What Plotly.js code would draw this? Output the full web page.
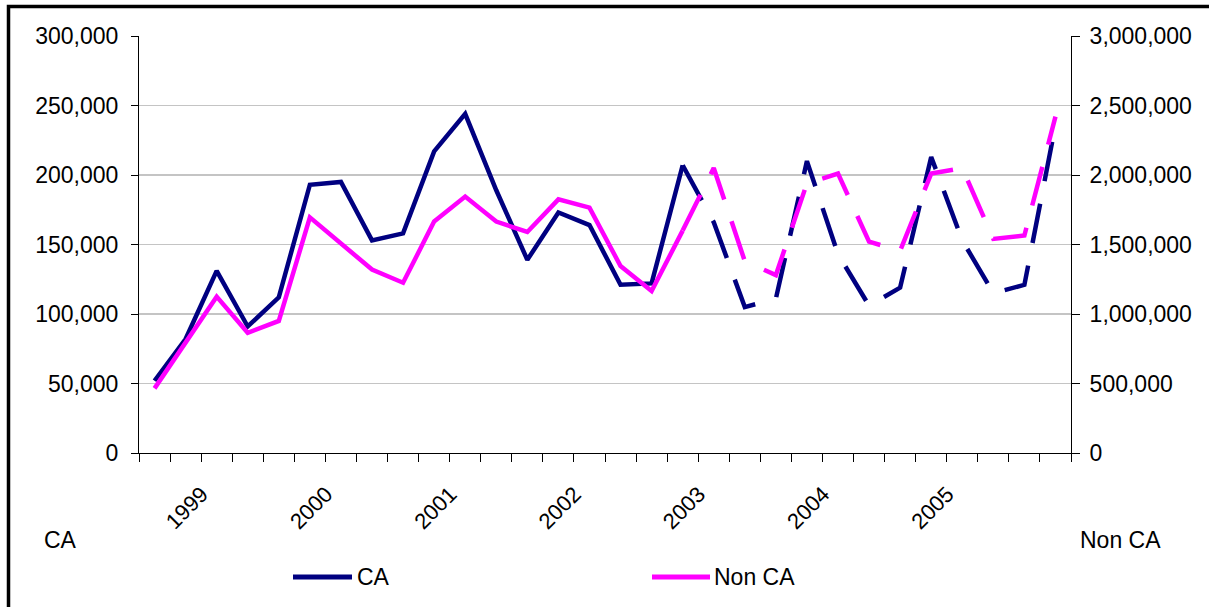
<!DOCTYPE html>
<html>
<head>
<meta charset="utf-8">
<script src="https://cdn.plot.ly/plotly-3.0.1.min.js"></script>
<style>
html, body { margin: 0; padding: 0; background: #ffffff; }
#chart { width: 1209px; height: 607px; }
</style>
</head>
<body>
<div id="chart"></div>
<script>
// ---- data ----
const yearLabels = ['1999', '2000', '2001', '2002', '2003', '2004', '2005'];
const yearLabelIndex = [1, 5, 9, 13, 17, 21, 25];
const seriesNames = ['CA', 'Non CA'];

// CA series (left axis)
const ca = [
  52000, 82000, 131000, 91000, 112000, 193000, 195000, 153000, 158000, 217000,
  244000, 189000, 139000, 173000, 164000, 121000, 122000, 207000, 166000, 105000,
  111000, 210000, 143000, 106000, 119000, 213000, 153000, 115000, 121000, 236000
];

// Non CA series (right axis)
const nonCa = [
  465000, 790000, 1125000, 865000, 950000, 1695000, 1510000, 1320000, 1225000, 1665000,
  1845000, 1665000, 1590000, 1825000, 1765000, 1345000, 1165000, 1600000, 2050000, 1380000,
  1280000, 1940000, 2010000, 1520000, 1455000, 2010000, 2050000, 1540000, 1565000, 2420000
];

// index where the dashed (projected) part begins
const dashStart = 17;

// ---- build ----
const idx = ca.map((_, i) => i);
const boundaries = idx.concat([idx.length]).map(i => i - 0.5);
const FONT = 'Liberation Sans, Arial, sans-serif';
const NAVY = '#000080';
const PINK = '#FF00FF';
const LW = 4.5;
const DASH = '40px,23px';

const traces = [
  { x: idx.slice(0, dashStart + 1), y: ca.slice(0, dashStart + 1), name: seriesNames[0], mode: 'lines',
    line: { color: NAVY, width: LW }, xaxis: 'x', yaxis: 'y', hoverinfo: 'skip' },
  { x: idx.slice(dashStart), y: ca.slice(dashStart), name: seriesNames[0], mode: 'lines',
    line: { color: NAVY, width: LW, dash: DASH }, xaxis: 'x', yaxis: 'y', hoverinfo: 'skip' },
  { x: idx.slice(0, dashStart + 1), y: nonCa.slice(0, dashStart + 1), name: seriesNames[1], mode: 'lines',
    line: { color: PINK, width: LW }, xaxis: 'x', yaxis: 'y2', hoverinfo: 'skip' },
  { x: idx.slice(dashStart), y: nonCa.slice(dashStart), name: seriesNames[1], mode: 'lines',
    line: { color: PINK, width: LW, dash: DASH }, xaxis: 'x', yaxis: 'y2', hoverinfo: 'skip' },
  // carrier for the year-label axis
  { x: [yearLabelIndex[0]], y: [null], xaxis: 'x2', yaxis: 'y', mode: 'lines', hoverinfo: 'skip' }
];

const tickFont = { family: FONT, size: 23, color: '#000' };
const labelFont = { family: FONT, size: 23, color: '#000' };

// plot-area geometry helpers (paper coordinates) for the hand-placed legend
const PL = 139, PW = 932, PT = 36, PH = 417;
const px = v => (v - PL) / PW;
const py = v => (PT + PH - v) / PH;

const legendItems = [
  { name: seriesNames[0], color: NAVY, x0: 293, x1: 352, tx: 355 },
  { name: seriesNames[1], color: PINK, x0: 652, x1: 710, tx: 712 }
];
const legendY = 577;

const shapes = [
  { type: 'rect', xref: 'paper', yref: 'paper',
    x0: px(8.5), x1: 1.4, y0: -0.6, y1: py(6.5),
    line: { color: '#000', width: 3.5 }, fillcolor: 'rgba(0,0,0,0)', layer: 'above' }
];
const annotations = [
  { text: 'CA', xref: 'paper', yref: 'paper', x: px(42), y: py(540),
    xanchor: 'left', yanchor: 'middle', showarrow: false, font: labelFont },
  { text: 'Non CA', xref: 'paper', yref: 'paper', x: px(1078), y: py(540),
    xanchor: 'left', yanchor: 'middle', showarrow: false, font: labelFont }
];
legendItems.forEach(it => {
  shapes.push({ type: 'line', xref: 'paper', yref: 'paper',
    x0: px(it.x0), x1: px(it.x1), y0: py(legendY), y1: py(legendY),
    line: { color: it.color, width: 5 }, layer: 'above' });
  annotations.push({ text: it.name, xref: 'paper', yref: 'paper', x: px(it.tx), y: py(legendY),
    xanchor: 'left', yanchor: 'middle', showarrow: false, font: labelFont });
});

const layout = {
  width: 1209,
  height: 607,
  margin: { l: 139, r: 138, t: 36, b: 154, pad: 0 },
  paper_bgcolor: '#ffffff',
  plot_bgcolor: '#ffffff',
  font: { family: FONT, size: 21, color: '#000' },
  showlegend: false,
  xaxis: {
    range: [-0.5, idx.length - 0.5],
    tickmode: 'array',
    tickvals: boundaries,
    ticks: 'outside', ticklen: 8, tickwidth: 1, tickcolor: '#000',
    showticklabels: false,
    showline: true, linecolor: '#000', linewidth: 1,
    showgrid: false, zeroline: false, fixedrange: true
  },
  xaxis2: {
    overlaying: 'x', anchor: 'y', side: 'bottom',
    range: [-0.5, idx.length - 0.5],
    tickmode: 'array',
    tickvals: yearLabelIndex.map(i => i + 0.52),
    ticktext: yearLabels,
    ticks: '', tickangle: -45,
    tickfont: { family: FONT, size: 22, color: '#000' },
    ticklabelstandoff: 23,
    showline: false, showgrid: false, zeroline: false, fixedrange: true
  },
  yaxis: {
    range: [0, 300000],
    tickmode: 'linear', tick0: 0, dtick: 50000,
    tickformat: ',d',
    ticks: 'outside', ticklen: 7, tickwidth: 1, tickcolor: '#000',
    tickfont: tickFont,
    ticklabelstandoff: 8,
    showline: true, linecolor: '#000', linewidth: 1,
    showgrid: true, gridcolor: '#c4c4c4', gridwidth: 1.3,
    zeroline: false, fixedrange: true
  },
  yaxis2: {
    overlaying: 'y', side: 'right', anchor: 'x',
    range: [0, 3000000],
    tickmode: 'linear', tick0: 0, dtick: 500000,
    tickformat: ',d',
    ticks: 'outside', ticklen: 8, tickwidth: 1, tickcolor: '#000',
    tickfont: tickFont,
    ticklabelstandoff: 5,
    showline: true, linecolor: '#000', linewidth: 1,
    showgrid: false, zeroline: false, fixedrange: true
  },
  annotations: annotations,
  shapes: shapes
};

Plotly.newPlot('chart', traces, layout, { displayModeBar: false, staticPlot: true });
</script>
</body>
</html>
